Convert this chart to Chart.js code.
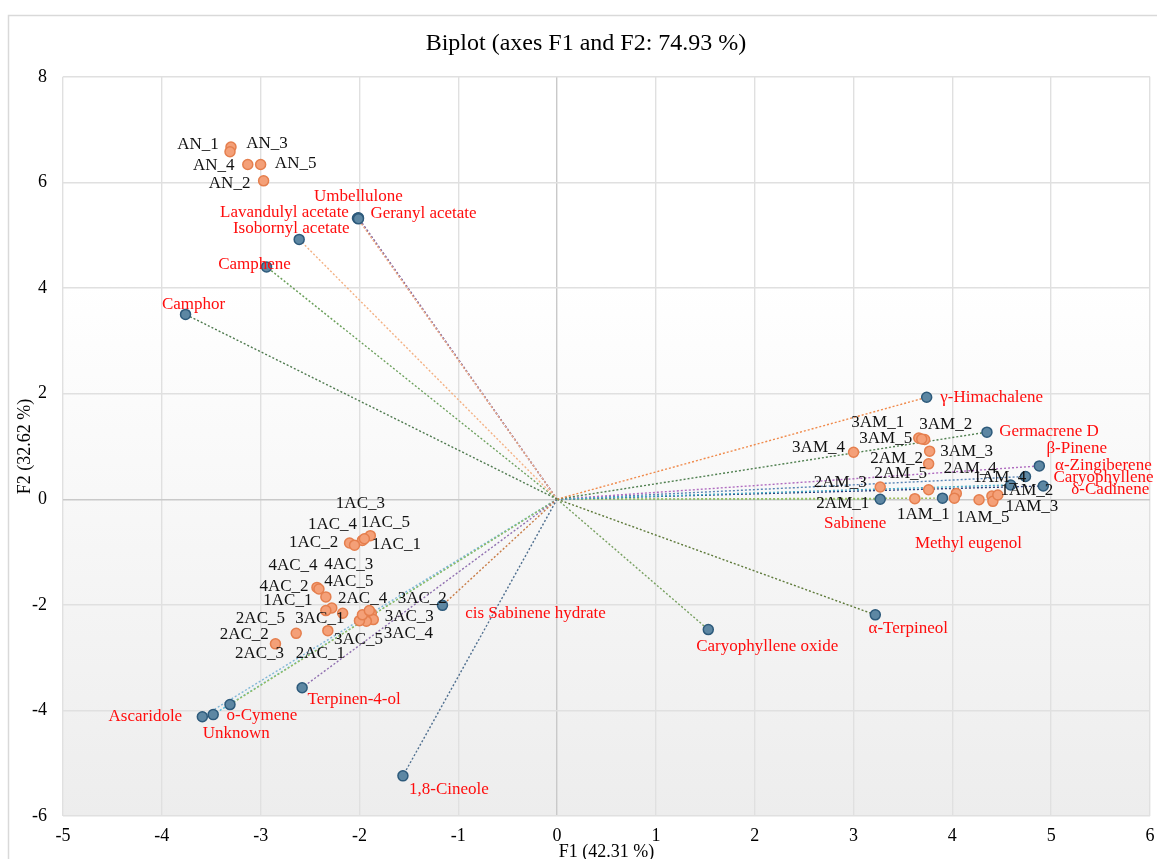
<!DOCTYPE html>
<html>
<head>
<meta charset="utf-8">
<title>Biplot</title>
<script src="https://cdn.jsdelivr.net/npm/chart.js@4.4.1/dist/chart.umd.min.js"></script>
<style>
  html, body { margin: 0; padding: 0; background: #fff; }
  #wrap { width: 1157px; height: 859px; }
</style>
</head>
<body>
<div id="wrap"><canvas id="biplot" width="1157" height="859"></canvas></div>
<script>
// Variables (active, blue markers + vectors)
const varNames = ['Camphor', 'Camphene', 'Isobornyl acetate', 'Lavandulyl acetate', 'Umbellulone',
  'Geranyl acetate', 'γ-Himachalene', 'Germacrene D', 'β-Pinene', 'α-Zingiberene', 'Caryophyllene',
  'δ-Cadinene', 'Sabinene', 'Methyl eugenol', 'α-Terpineol', 'Caryophyllene oxide', '1,8-Cineole',
  'cis Sabinene hydrate', 'Terpinen-4-ol', 'o-Cymene', 'Unknown', 'Ascaridole'];
const varX = [-3.76, -2.94, -2.61, -2.02, -2.01, -2.01, 3.74, 4.35, 4.59, 4.88, 4.74,
  4.92, 3.27, 3.90, 3.22, 1.53, -1.56, -1.16, -2.58, -3.31, -3.48, -3.59];
const varY = [3.50, 4.40, 4.92, 5.32, 5.33, 5.31, 1.93, 1.27, 0.27, 0.63, 0.43,
  0.25, 0.00, 0.02, -2.19, -2.47, -5.24, -2.01, -3.57, -3.89, -4.08, -4.12];

// Observations (orange markers)
const obsNames = ['AN_1', 'AN_3', 'AN_4', 'AN_5', 'AN_2',
  '3AM_1', '3AM_2', '3AM_3', '3AM_4', '3AM_5',
  '2AM_1', '2AM_2', '2AM_3', '2AM_4', '2AM_5',
  '1AM_1', '1AM_2', '1AM_3', '1AM_4', '1AM_5',
  '1AC_1', '1AC_2', '1AC_3', '1AC_4', '1AC_5',
  '4AC_2', '4AC_4', '4AC_5', '4AC_3', '1AC_1',
  '2AC_4', '3AC_1', '2AC_2', '2AC_3', '3AC_2',
  '3AC_3', '3AC_4', '3AC_5', '2AC_5', '2AC_1'];
const obsX = [-3.30, -3.31, -3.13, -3.00, -2.97,
  3.66, 3.72, 3.77, 3.00, 3.69,
  3.62, 3.76, 3.27, 4.04, 3.76,
  4.02, 4.40, 4.41, 4.46, 4.27,
  -1.89, -2.10, -1.97, -2.05, -1.95,
  -2.43, -2.41, -2.34, -2.28, -2.34,
  -2.17, -2.32, -2.64, -2.85, -1.88,
  -1.86, -1.93, -2.00, -1.97, -1.90];
const obsY = [6.67, 6.58, 6.34, 6.34, 6.03,
  1.16, 1.13, 0.91, 0.89, 1.14,
  0.01, 0.67, 0.23, 0.11, 0.18,
  0.02, 0.06, -0.04, 0.08, -0.01,
  -0.69, -0.83, -0.78, -0.87, -0.75,
  -1.67, -1.70, -1.85, -2.06, -2.11,
  -2.16, -2.49, -2.54, -2.74, -2.16,
  -2.28, -2.31, -2.30, -2.19, -2.11];

const xTicks = [-5, -4, -3, -2, -1, 0, 1, 2, 3, 4, 5, 6];
const yTicks = [-6, -4, -2, 0, 2, 4, 6, 8];

// layout only: label offsets in px from each marker, and vector colours
const varLabelOffset = [[8, -10], [-12, -2], [-8, -11], [-73, -6], [0, -21], [65, -5], [65, 0], [62, -1],
  [66, -36], [64, 0], [78, 1], [67, 4], [-25, 24], [26, 45], [33, 14], [59, 17], [46, 14], [93, 8],
  [52, 12], [32, 11], [23, 19], [-57, 0]];
const obsLabelOffset = [[-33, -2], [37, -8], [-34, 1], [35, -1], [-34, 3],
  [-41, -15], [21, -15], [37, 0], [-35, -5], [-36, 0],
  [-72, 5], [-32, -5], [-40, -5], [14, -25], [-28, -16],
  [-31, 16], [35, -6], [39, 5], [2, -17], [4, 18],
  [26, 9], [-36, 0], [-2, -37], [-22, -21], [21, -16],
  [-33, -1], [-26, -23], [23, -15], [17, -43], [-38, -10],
  [20, -15], [-8, -12], [-52, 1], [-16, 10], [51, -15],
  [36, -3], [42, 12], [-1, 19], [-102, 4], [-49, 43]];
const vecColors = ['#4f7a4f', '#6a9f5a', '#f4b183', '#f4b183', '#8064a2', '#8064a2', '#f08a4b', '#4f7f4f',
  '#4bacc6', '#b06cc0', '#5a85b5', '#2b3f7a', '#8cc06a', '#9bbb59', '#5e7a3a', '#77a060', '#4f6f8f',
  '#c87c46', '#9070b0', '#9bbb59', '#4bc0dd', '#7fb6d6'];

const FONT = '"Liberation Serif", "Times New Roman", serif';

const vectorSets = varNames.map((name, i) => ({
  label: name,
  data: [{ x: 0, y: 0 }, { x: varX[i], y: varY[i] }],
  showLine: true,
  borderColor: vecColors[i],
  borderWidth: 1.4,
  borderDash: [2, 2],
  pointRadius: 0,
  order: 3
}));

const backdrop = {
  id: 'backdrop',
  beforeDraw(chart) {
    const { ctx, chartArea: a } = chart;
    ctx.save();
    ctx.fillStyle = '#ffffff';
    ctx.fillRect(0, 0, chart.width, chart.height);
    ctx.strokeStyle = '#d9d9d9';
    ctx.lineWidth = 1.5;
    ctx.strokeRect(8.5, 15.5, chart.width + 10, chart.height + 10);
    const g = ctx.createLinearGradient(0, a.top, 0, a.bottom);
    g.addColorStop(0, '#ffffff');
    g.addColorStop(0.28, '#ffffff');
    g.addColorStop(1, '#ededed');
    ctx.fillStyle = g;
    ctx.fillRect(a.left, a.top, a.right - a.left, a.bottom - a.top);
    ctx.restore();
  }
};

const pointLabels = {
  id: 'pointLabels',
  afterDatasetsDraw(chart) {
    const { ctx, scales: { x, y } } = chart;
    ctx.save();
    ctx.font = '17px ' + FONT;
    ctx.textAlign = 'center';
    ctx.textBaseline = 'middle';
    ctx.fillStyle = '#ff0d0d';
    varNames.forEach((name, i) => {
      const [dx, dy] = varLabelOffset[i];
      ctx.fillText(name, x.getPixelForValue(varX[i]) + dx, y.getPixelForValue(varY[i]) + dy);
    });
    ctx.fillStyle = '#111111';
    obsNames.forEach((name, i) => {
      const [dx, dy] = obsLabelOffset[i];
      ctx.fillText(name, x.getPixelForValue(obsX[i]) + dx, y.getPixelForValue(obsY[i]) + dy);
    });
    ctx.restore();
  }
};

new Chart(document.getElementById('biplot'), {
  type: 'scatter',
  data: {
    datasets: [
      {
        label: 'Variables',
        data: varX.map((v, i) => ({ x: v, y: varY[i] })),
        backgroundColor: '#5d87a3',
        borderColor: '#2d5a7b',
        borderWidth: 1.5,
        pointRadius: 5,
        order: 1
      },
      {
        label: 'Observations',
        data: obsX.map((v, i) => ({ x: v, y: obsY[i] })),
        backgroundColor: '#f4a078',
        borderColor: '#e57f4e',
        borderWidth: 1.5,
        pointRadius: 5,
        order: 2
      },
      ...vectorSets
    ]
  },
  options: {
    responsive: false,
    animation: false,
    events: [],
    layout: { padding: { left: 22, right: 7, top: 0, bottom: 0 } },
    plugins: {
      legend: { display: false },
      tooltip: { enabled: false },
      title: {
        display: true,
        text: 'Biplot (axes F1 and F2: 74.93 %)',
        color: '#000',
        font: { family: FONT, size: 24, weight: 'normal' },
        padding: { top: 29, bottom: 19 }
      }
    },
    scales: {
      x: {
        type: 'linear',
        min: -5,
        max: 6,
        afterBuildTicks: s => { s.ticks = xTicks.map(v => ({ value: v })); },
        afterFit: s => { s.height = 43; s.paddingLeft = 0; s.paddingRight = 0; },
        ticks: { color: '#000', font: { family: FONT, size: 18 }, padding: 9 },
        grid: {
          color: c => (c.tick && c.tick.value === 0 ? '#c9c9c9' : '#e0e0e0'),
          lineWidth: 1.4,
          drawTicks: false
        },
        border: { display: false },
        title: {
          display: true,
          text: 'F1 (42.31 %)',
          color: '#000',
          font: { family: FONT, size: 18 },
          padding: { top: 0, bottom: -4 }
        }
      },
      y: {
        type: 'linear',
        min: -6,
        max: 8,
        afterBuildTicks: s => { s.ticks = yTicks.map(v => ({ value: v })); },
        afterFit: s => { s.width = 41; s.paddingTop = 0; s.paddingBottom = 0; },
        ticks: { color: '#000', font: { family: FONT, size: 18 }, padding: 16 },
        grid: {
          color: c => (c.tick && c.tick.value === 0 ? '#c9c9c9' : '#e0e0e0'),
          lineWidth: 1.4,
          drawTicks: false
        },
        border: { display: false },
        title: {
          display: true,
          text: 'F2 (32.62 %)',
          color: '#000',
          font: { family: FONT, size: 18 },
          padding: { top: -8, bottom: 0 }
        }
      }
    }
  },
  plugins: [backdrop, pointLabels]
});
</script>
</body>
</html>
